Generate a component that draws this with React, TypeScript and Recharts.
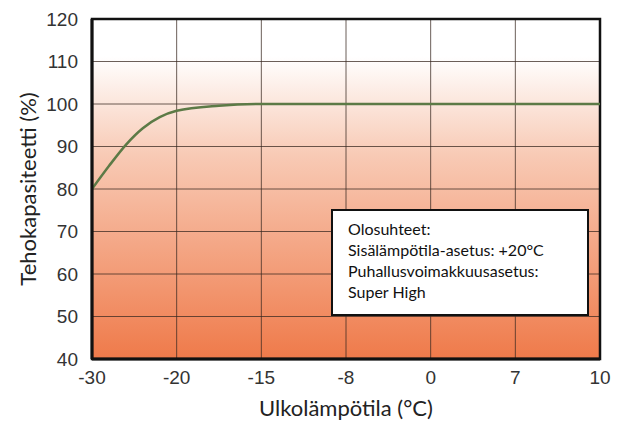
import React from 'react';
import { LineChart, Line, XAxis, YAxis, CartesianGrid, ReferenceArea } from 'recharts';

const xLabels = ['-30', '-20', '-15', '-8', '0', '7', '10'];
const xIdx = [0, 1, 2, 3, 4, 5, 6];
const yTicks = [40, 50, 60, 70, 80, 90, 100, 110, 120];
const curveX = [0, 0.2, 0.4, 0.6, 0.8, 1, 1.5, 2, 3, 4, 5, 6];
const curveY = [80, 85.4, 90.4, 94.3, 96.9, 98.4, 99.6, 100, 100, 100, 100, 100];
const noteLines = ['Olosuhteet:', 'Sisälämpötila-asetus: +20°C', 'Puhallusvoimakkuusasetus:', 'Super High'];

const data = curveX.map((x, i) => ({ x, cap: curveY[i] }));

const tickFont = { fontFamily: 'Liberation Sans, Arial, sans-serif', fontSize: 19, fill: '#333' };

export default function App() {
  return (
    <div style={{ position: 'absolute', left: 0, top: 0, width: 630, height: 425, background: '#fff' }}>
      <LineChart width={630} height={425} data={data} margin={{ top: 19, right: 30, left: 32, bottom: 36 }}>
        <defs>
          <linearGradient id="bg" x1="0" y1="0" x2="0" y2="1">
            <stop offset="0" stopColor="#ffffff" />
            <stop offset="0.11" stopColor="#ffffff" />
            <stop offset="0.4" stopColor="#f8cab5" />
            <stop offset="1" stopColor="#ef7a4a" />
          </linearGradient>
        </defs>
        <CartesianGrid stroke="#3a2a22" strokeOpacity={0.75} strokeWidth={1} fill="url(#bg)" fillOpacity={1} />
        <XAxis
          dataKey="x"
          type="number"
          domain={[0, 6]}
          ticks={xIdx}
          tickFormatter={(v: number) => xLabels[v]}
          tick={tickFont}
          tickLine={false}
          axisLine={{ stroke: '#111', strokeWidth: 3 }}
          tickMargin={6}
          label={{ value: 'Ulkolämpötila (°C)', position: 'insideBottom', offset: -27, style: { fontFamily: 'Lato, sans-serif', fontSize: 22, fill: '#222' } }}
        />
        <YAxis
          type="number"
          domain={[40, 120]}
          ticks={yTicks}
          width={60}
          tick={tickFont}
          tickLine={false}
          axisLine={{ stroke: '#111', strokeWidth: 3 }}
          tickMargin={8}
          label={{ value: 'Tehokapasiteetti (%)', angle: -90, position: 'insideLeft', offset: -4, style: { textAnchor: 'middle', fontFamily: 'Lato, sans-serif', fontSize: 22, fill: '#222' } }}
        />
        <ReferenceArea x1={0} x2={6} y1={40} y2={120} fill="none" stroke="#111" strokeWidth={2.5} />
        <Line type="monotone" dataKey="cap" stroke="#5c7a46" strokeWidth={2.5} dot={false} isAnimationActive={false} />
      </LineChart>
      <div
        style={{
          position: 'absolute',
          left: 331,
          top: 209,
          width: 258,
          height: 107,
          background: '#fff',
          border: '2.5px solid #111',
          boxSizing: 'border-box',
          padding: '7px 0 0 15px',
          fontFamily: 'Lato, sans-serif',
          fontSize: 16,
          lineHeight: '21px',
          color: '#111',
        }}
      >
        {noteLines.map((t) => (
          <div key={t}>{t}</div>
        ))}
      </div>
    </div>
  );
}
